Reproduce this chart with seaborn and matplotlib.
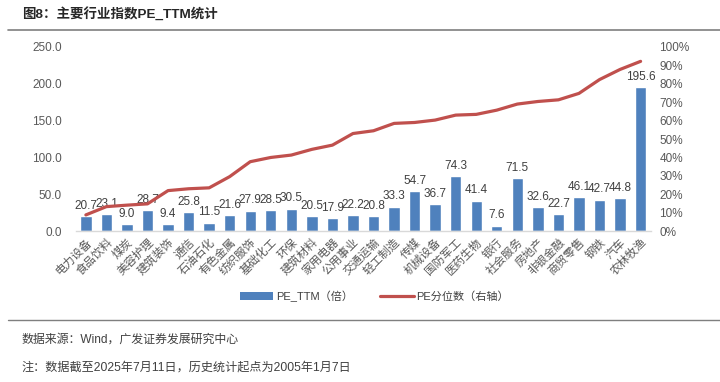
import matplotlib
matplotlib.use("Agg")
import matplotlib.pyplot as plt
import seaborn as sns
import pandas as pd
import numpy as np
from matplotlib.patches import Patch
from matplotlib.lines import Line2D
from matplotlib.ticker import FuncFormatter, MultipleLocator

categories = ["电力设备", "食品饮料", "煤炭", "美容护理", "建筑装饰", "通信", "石油石化",
              "有色金属", "纺织服饰", "基础化工", "环保", "建筑材料", "家用电器", "公用事业",
              "交通运输", "轻工制造", "传媒", "机械设备", "国防军工", "医药生物", "银行",
              "社会服务", "房地产", "非银金融", "商贸零售", "钢铁", "汽车", "农林牧渔"]
pe_ttm = [20.7, 23.1, 9.0, 28.7, 9.4, 25.8, 11.5, 21.6, 27.9, 28.5, 30.5, 20.5, 17.9,
          22.2, 20.8, 33.3, 54.7, 36.7, 74.3, 41.4, 7.6, 71.5, 32.6, 22.7, 46.1, 42.7,
          44.8, 195.6]
pe_pct = [8.8, 13.3, 14.1, 14.8, 22.0, 23.0, 23.5, 29.6, 37.7, 40.0, 41.3, 44.4, 46.7,
          53.0, 54.5, 58.5, 59.0, 60.3, 63.0, 63.4, 65.7, 69.0, 70.4, 71.3, 74.8, 82.3,
          87.8, 92.2]

bar_label = "PE_TTM（倍）"
line_label = "PE分位数（右轴）"
title = "图8：主要行业指数PE_TTM统计"
source = "数据来源：Wind，广发证券发展研究中心"
note = "注：数据截至2025年7月11日，历史统计起点为2005年1月7日"

sns.set_theme(style="white")
plt.rcParams["font.family"] = ["Liberation Sans", "Noto Sans CJK SC", "DejaVu Sans"]

df = pd.DataFrame({"cat": categories, "pe": pe_ttm, "pct": pe_pct})

BLUE = "#4F81BD"
RED = "#C0504D"
TXT = "#404040"

fig = plt.figure(figsize=(7.2, 3.82), dpi=100)
ax = fig.add_axes([0.105, 0.395, 0.799, 0.482])

sns.barplot(data=df, x="cat", y="pe", color=BLUE, width=0.55, saturation=1, ax=ax)
ax.set_ylim(0, 250)
ax.yaxis.set_major_locator(MultipleLocator(50))
ax.yaxis.set_major_formatter(FuncFormatter(lambda v, p: f"{v:.1f}"))
ax.set_xlim(-0.5, len(categories) - 0.5)
ax.set_xlabel("")
ax.set_ylabel("")
for s in ["top", "left", "right"]:
    ax.spines[s].set_visible(False)
ax.spines["bottom"].set_color("#D9D9D9")
ax.spines["bottom"].set_linewidth(1.0)
ax.tick_params(axis="y", length=0, labelsize=8.5, labelcolor="#595959", pad=10)
ax.tick_params(axis="x", length=0, labelsize=8.3, labelcolor="#595959", pad=4)
ax.set_xticks(range(len(categories)))
ax.set_xticklabels(categories, rotation=45, ha="right", rotation_mode="anchor")

for c in ax.containers:
    ax.bar_label(c, labels=[f"{v:.1f}" for v in pe_ttm], padding=3, fontsize=8.5, color=TXT)

ax2 = ax.twinx()
sns.lineplot(data=df, x="cat", y="pct", color=RED, linewidth=2.3, ax=ax2, sort=False)
ax2.set_ylim(0, 100)
ax2.yaxis.set_major_locator(MultipleLocator(10))
ax2.yaxis.set_major_formatter(FuncFormatter(lambda v, p: f"{v:.0f}%"))
ax2.set_ylabel("")
ax2.set_xlim(-0.5, len(categories) - 0.5)
for s in ["top", "left", "right", "bottom"]:
    ax2.spines[s].set_visible(False)
ax2.tick_params(axis="y", length=0, labelsize=8.5, labelcolor="#595959", pad=6)
ax.grid(False)
ax2.grid(False)

handles = [Patch(facecolor=BLUE, edgecolor="none"),
           Line2D([0], [0], color=RED, linewidth=2.3)]
fig.legend(handles, [bar_label, line_label], loc="center", bbox_to_anchor=(0.52, 0.225),
           ncol=2, frameon=False, fontsize=8, handlelength=3.0, handletextpad=0.2,
           columnspacing=2.5, labelcolor=TXT)

fig.text(0.03, 0.963, title, fontsize=9.7, fontweight="bold", color="#262626", va="center")
fig.add_artist(Line2D([0.011, 1.0], [0.922, 0.922], color="#7F7F7F", linewidth=1.2,
                      transform=fig.transFigure))
fig.add_artist(Line2D([0.011, 1.0], [0.162, 0.162], color="#7F7F7F", linewidth=1.0,
                      transform=fig.transFigure))
fig.text(0.03, 0.112, source, fontsize=8.6, color=TXT, va="center")
fig.text(0.03, 0.037, note, fontsize=8.7, color=TXT, va="center")

fig.savefig("out.png", dpi=100)
